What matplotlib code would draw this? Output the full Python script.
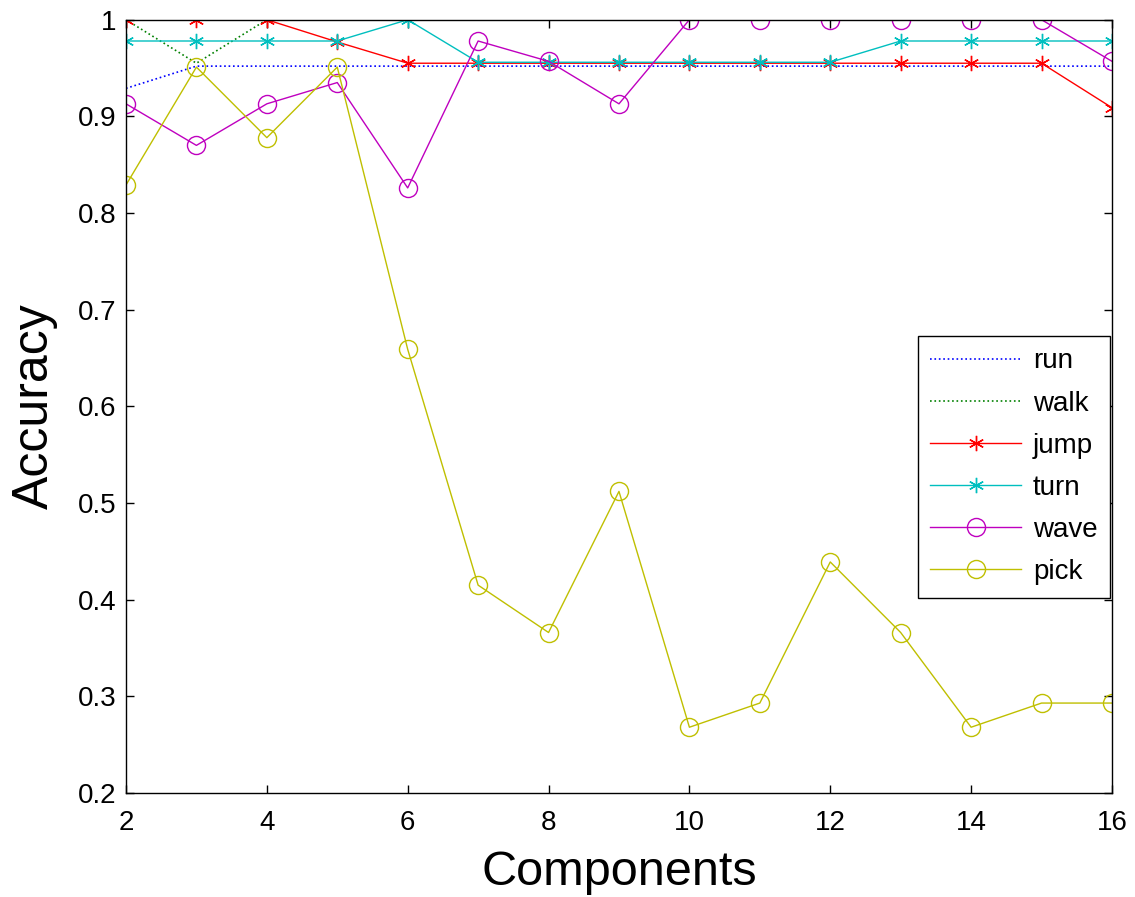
import matplotlib
matplotlib.use("Agg")
import matplotlib.pyplot as plt

components = [2, 3, 4, 5, 6, 7, 8, 9, 10, 11, 12, 13, 14, 15, 16]
run = [0.929, 0.952, 0.952, 0.952, 0.952, 0.952, 0.952, 0.952, 0.952, 0.952, 0.952, 0.952, 0.952, 0.952, 0.952]
walk = [1.0, 0.955, 1.0, 1.0, 1.0, 1.0, 1.0, 1.0, 1.0, 1.0, 1.0, 1.0, 1.0, 1.0, 1.0]
jump = [1.0, 1.0, 1.0, 0.977, 0.955, 0.955, 0.955, 0.955, 0.955, 0.955, 0.955, 0.955, 0.955, 0.955, 0.909]
turn = [0.978, 0.978, 0.978, 0.978, 1.0, 0.956, 0.956, 0.956, 0.956, 0.956, 0.956, 0.978, 0.978, 0.978, 0.978]
wave = [0.913, 0.870, 0.913, 0.935, 0.826, 0.978, 0.957, 0.913, 1.0, 1.0, 1.0, 1.0, 1.0, 1.0, 0.957]
pick = [0.829, 0.951, 0.878, 0.951, 0.659, 0.415, 0.366, 0.512, 0.268, 0.293, 0.439, 0.366, 0.268, 0.293, 0.293]
labels = ["run", "walk", "jump", "turn", "wave", "pick"]
xticks = [2, 4, 6, 8, 10, 12, 14, 16]
yticks = [0.2, 0.3, 0.4, 0.5, 0.6, 0.7, 0.8, 0.9, 1.0]
yticklabels = ["0.2", "0.3", "0.4", "0.5", "0.6", "0.7", "0.8", "0.9", "1"]

plt.rcParams['font.family'] = ['Liberation Sans', 'DejaVu Sans']

fig = plt.figure(figsize=(11.35, 8.97), dpi=100)
ax = fig.add_axes([0.111, 0.116, 0.8687, 0.862])

ax.plot(components, run, color='#0000ff', linestyle=':', linewidth=1.2, label=labels[0])
ax.plot(components, walk, color='#008000', linestyle=':', linewidth=1.2, label=labels[1])
ax.plot(components, jump, color='#ff0000', linestyle='-', linewidth=1.0, marker=(6, 2, 0),
        markersize=11, markeredgewidth=1.0, label=labels[2])
ax.plot(components, turn, color='#00bfbf', linestyle='-', linewidth=1.0, marker=(6, 2, 0),
        markersize=11, markeredgewidth=1.0, label=labels[3])
ax.plot(components, wave, color='#bf00bf', linestyle='-', linewidth=1.0, marker='o',
        markersize=13, markerfacecolor='none', markeredgewidth=1.0, label=labels[4])
ax.plot(components, pick, color='#bfbf00', linestyle='-', linewidth=1.0, marker='o',
        markersize=13, markerfacecolor='none', markeredgewidth=1.0, label=labels[5])

ax.set_xlim(2, 16)
ax.set_ylim(0.2, 1.0)
ax.set_xticks(xticks)
ax.set_xticklabels([str(t) for t in xticks])
ax.set_yticks(yticks)
ax.set_yticklabels(yticklabels)
ax.tick_params(direction='in', top=True, right=True, length=6, width=1, labelsize=20)
ax.tick_params(axis='x', pad=12)
ax.tick_params(axis='y', pad=7)
for s in ax.spines.values():
    s.set_linewidth(1.0)
ax.set_xlabel("Components", fontsize=35, labelpad=10)
ax.set_ylabel("Accuracy", fontsize=36, labelpad=14)

leg = ax.legend(loc='upper right', bbox_to_anchor=(0.998, 0.591), fontsize=20, frameon=True,
                fancybox=False, edgecolor='black', framealpha=1, handlelength=3.27,
                labelspacing=0.58, borderpad=0.45, handletextpad=0.43, borderaxespad=0)
leg.get_frame().set_linewidth(1.0)

fig.savefig("out.png", dpi=100)
